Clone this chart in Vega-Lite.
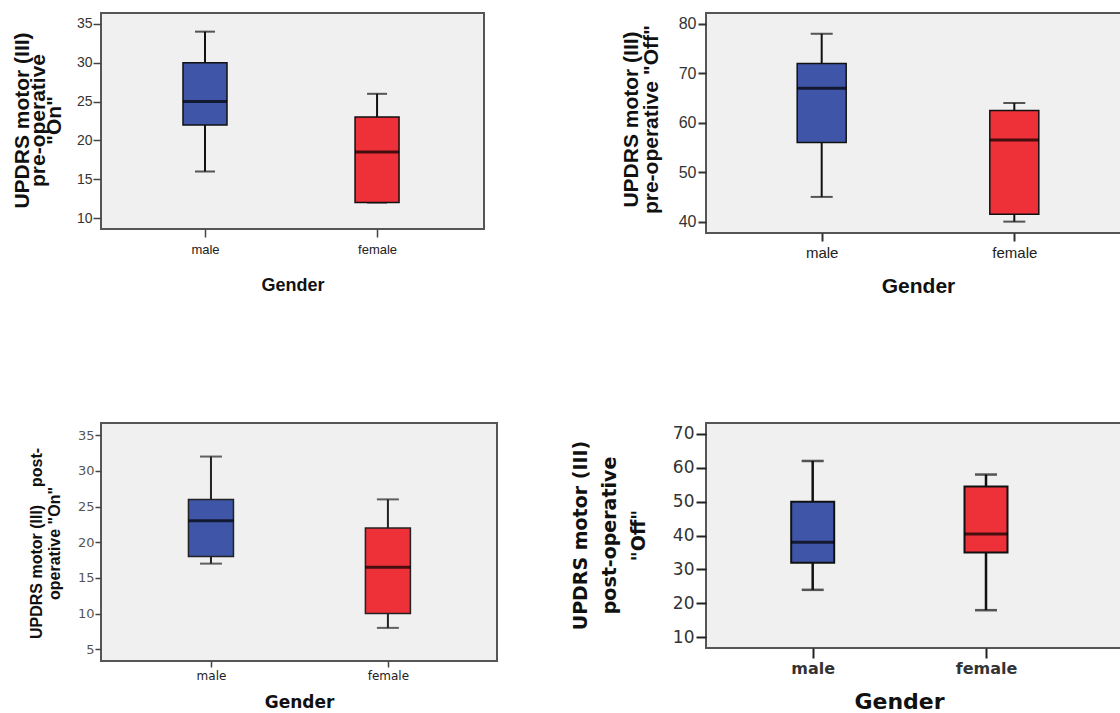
{
  "$schema": "https://vega.github.io/schema/vega-lite/v6.json",
  "background": "white",
  "padding": {"left": 9, "top": 12, "right": -11, "bottom": -1},
  "data": {
    "values": [
      {"panel": "preOn", "gender": "male", "min": 16, "q1": 22, "median": 25, "q3": 30, "max": 34},
      {"panel": "preOn", "gender": "female", "min": 12, "q1": 12, "median": 18.5, "q3": 23, "max": 26},
      {"panel": "preOff", "gender": "male", "min": 45, "q1": 56, "median": 67, "q3": 72, "max": 78},
      {"panel": "preOff", "gender": "female", "min": 40, "q1": 41.5, "median": 56.5, "q3": 62.5, "max": 64},
      {"panel": "postOn", "gender": "male", "min": 17, "q1": 18, "median": 23, "q3": 26, "max": 32},
      {"panel": "postOn", "gender": "female", "min": 8, "q1": 10, "median": 16.5, "q3": 22, "max": 26},
      {"panel": "postOff", "gender": "male", "min": 24, "q1": 32, "median": 38, "q3": 50, "max": 62},
      {"panel": "postOff", "gender": "female", "min": 18, "q1": 35, "median": 40.5, "q3": 54.5, "max": 58}
    ]
  },
  "columns": 2,
  "spacing": {"row": 190, "column": 209},
  "bounds": "flush",
  "resolve": {"scale": {"x": "independent", "y": "independent"}, "axis": {"x": "independent", "y": "independent"}},
  "concat": [
    {
      "width": 383,
      "height": 216,
      "transform": [{"filter": "datum.panel === 'preOn'"}],
      "encoding": {
        "x": {
          "field": "gender", "type": "nominal",
          "scale": {"type": "point", "domain": ["male", "female"], "padding": 0.613, "align": 0.493},
          "axis": {"title": "Gender", "labelAngle": 0, "labelFont": "Liberation Sans", "labelFontSize": 13, "labelColor": "#222", "labelPadding": 6, "tickSize": 8, "tickColor": "#444", "tickWidth": 1.5, "titleFont": "Liberation Sans", "titleFontSize": 18, "titleFontWeight": "bold", "titleColor": "#111", "titleY": 56, "titleBaseline": "middle"}
        }
      },
      "layer": [
        {"mark": {"type": "rule", "color": "#111", "strokeWidth": 2},
         "encoding": {"y": {"field": "min", "type": "quantitative", "scale": {"domain": [8.6, 36.4], "nice": false, "zero": false},
           "axis": {"values": [10, 15, 20, 25, 30, 35], "labelOverlap": false, "tickSize": 8, "tickColor": "#444", "tickWidth": 1.5, "labelFont": "Liberation Sans", "labelFontSize": 14, "labelColor": "#333", "labelPadding": 1, "title": ["UPDRS motor (III)", "pre-operative", "\"On\""], "titleFont": "Liberation Sans", "titleFontSize": 21, "titleFontWeight": "bold", "titleColor": "#111", "titleLineHeight": 16, "titleAngle": -90, "titleX": -90, "titleY": 107, "titleBaseline": "top", "titleAlign": "center"}},
           "y2": {"field": "max"}}},
        {"mark": {"type": "tick", "color": "#111", "size": 20, "thickness": 2},
         "encoding": {"y": {"field": "min", "type": "quantitative", "scale": {"domain": [8.6, 36.4], "nice": false, "zero": false},
           "axis": {"values": [10, 15, 20, 25, 30, 35], "labelOverlap": false, "tickSize": 8, "tickColor": "#444", "tickWidth": 1.5, "labelFont": "Liberation Sans", "labelFontSize": 14, "labelColor": "#333", "labelPadding": 1, "title": ["UPDRS motor (III)", "pre-operative", "\"On\""], "titleFont": "Liberation Sans", "titleFontSize": 21, "titleFontWeight": "bold", "titleColor": "#111", "titleLineHeight": 16, "titleAngle": -90, "titleX": -90, "titleY": 107, "titleBaseline": "top", "titleAlign": "center"}}}},
        {"mark": {"type": "tick", "color": "#111", "size": 20, "thickness": 2},
         "encoding": {"y": {"field": "max", "type": "quantitative", "scale": {"domain": [8.6, 36.4], "nice": false, "zero": false},
           "axis": {"values": [10, 15, 20, 25, 30, 35], "labelOverlap": false, "tickSize": 8, "tickColor": "#444", "tickWidth": 1.5, "labelFont": "Liberation Sans", "labelFontSize": 14, "labelColor": "#333", "labelPadding": 1, "title": ["UPDRS motor (III)", "pre-operative", "\"On\""], "titleFont": "Liberation Sans", "titleFontSize": 21, "titleFontWeight": "bold", "titleColor": "#111", "titleLineHeight": 16, "titleAngle": -90, "titleX": -90, "titleY": 107, "titleBaseline": "top", "titleAlign": "center"}}}},
        {"mark": {"type": "bar", "width": 44, "stroke": "#111", "strokeWidth": 1.5},
         "encoding": {"y": {"field": "q1", "type": "quantitative", "scale": {"domain": [8.6, 36.4], "nice": false, "zero": false},
           "axis": {"values": [10, 15, 20, 25, 30, 35], "labelOverlap": false, "tickSize": 8, "tickColor": "#444", "tickWidth": 1.5, "labelFont": "Liberation Sans", "labelFontSize": 14, "labelColor": "#333", "labelPadding": 1, "title": ["UPDRS motor (III)", "pre-operative", "\"On\""], "titleFont": "Liberation Sans", "titleFontSize": 21, "titleFontWeight": "bold", "titleColor": "#111", "titleLineHeight": 16, "titleAngle": -90, "titleX": -90, "titleY": 107, "titleBaseline": "top", "titleAlign": "center"}},
           "y2": {"field": "q3"},
           "fill": {"field": "gender", "type": "nominal", "scale": {"domain": ["male", "female"], "range": ["#3f56a8", "#ee3038"]}, "legend": null}}},
        {"mark": {"type": "tick", "color": "#000", "size": 44, "thickness": 3},
         "encoding": {"y": {"field": "median", "type": "quantitative", "scale": {"domain": [8.6, 36.4], "nice": false, "zero": false},
           "axis": {"values": [10, 15, 20, 25, 30, 35], "labelOverlap": false, "tickSize": 8, "tickColor": "#444", "tickWidth": 1.5, "labelFont": "Liberation Sans", "labelFontSize": 14, "labelColor": "#333", "labelPadding": 1, "title": ["UPDRS motor (III)", "pre-operative", "\"On\""], "titleFont": "Liberation Sans", "titleFontSize": 21, "titleFontWeight": "bold", "titleColor": "#111", "titleLineHeight": 16, "titleAngle": -90, "titleX": -90, "titleY": 107, "titleBaseline": "top", "titleAlign": "center"}}}}
      ]
    },
    {
      "width": 424,
      "height": 220,
      "transform": [{"filter": "datum.panel === 'preOff'"}],
      "encoding": {
        "x": {
          "field": "gender", "type": "nominal",
          "scale": {"type": "point", "domain": ["male", "female"], "padding": 0.6007, "align": 0.5},
          "axis": {"title": "Gender", "labelAngle": 0, "labelFont": "Liberation Sans", "labelFontSize": 15, "labelColor": "#222", "labelPadding": 4, "tickSize": 8, "tickColor": "#333", "tickWidth": 2, "titleFont": "Liberation Sans", "titleFontSize": 21, "titleFontWeight": "bold", "titleColor": "#111", "titleX": 212, "titleY": 53, "titleBaseline": "middle"}
        }
      },
      "layer": [
        {"mark": {"type": "rule", "color": "#111", "strokeWidth": 2},
         "encoding": {"y": {"field": "min", "type": "quantitative", "scale": {"domain": [37.7, 82.2], "nice": false, "zero": false},
           "axis": {"values": [40, 50, 60, 70, 80], "labelOverlap": false, "tickSize": 8, "tickColor": "#333", "tickWidth": 2, "labelFont": "Liberation Sans", "labelFontSize": 16, "labelColor": "#333", "labelPadding": 2, "title": ["UPDRS motor (III)", "pre-operative \"Off\""], "titleFont": "Liberation Sans", "titleFontSize": 21, "titleFontWeight": "bold", "titleColor": "#111", "titleLineHeight": 20, "titleAngle": -90, "titleX": -86, "titleY": 106, "titleBaseline": "top", "titleAlign": "center"}},
           "y2": {"field": "max"}}},
        {"mark": {"type": "tick", "color": "#111", "size": 22, "thickness": 2},
         "encoding": {"y": {"field": "min", "type": "quantitative", "scale": {"domain": [37.7, 82.2], "nice": false, "zero": false},
           "axis": {"values": [40, 50, 60, 70, 80], "labelOverlap": false, "tickSize": 8, "tickColor": "#333", "tickWidth": 2, "labelFont": "Liberation Sans", "labelFontSize": 16, "labelColor": "#333", "labelPadding": 2, "title": ["UPDRS motor (III)", "pre-operative \"Off\""], "titleFont": "Liberation Sans", "titleFontSize": 21, "titleFontWeight": "bold", "titleColor": "#111", "titleLineHeight": 20, "titleAngle": -90, "titleX": -86, "titleY": 106, "titleBaseline": "top", "titleAlign": "center"}}}},
        {"mark": {"type": "tick", "color": "#111", "size": 22, "thickness": 2},
         "encoding": {"y": {"field": "max", "type": "quantitative", "scale": {"domain": [37.7, 82.2], "nice": false, "zero": false},
           "axis": {"values": [40, 50, 60, 70, 80], "labelOverlap": false, "tickSize": 8, "tickColor": "#333", "tickWidth": 2, "labelFont": "Liberation Sans", "labelFontSize": 16, "labelColor": "#333", "labelPadding": 2, "title": ["UPDRS motor (III)", "pre-operative \"Off\""], "titleFont": "Liberation Sans", "titleFontSize": 21, "titleFontWeight": "bold", "titleColor": "#111", "titleLineHeight": 20, "titleAngle": -90, "titleX": -86, "titleY": 106, "titleBaseline": "top", "titleAlign": "center"}}}},
        {"mark": {"type": "bar", "width": 49, "stroke": "#111", "strokeWidth": 1.5},
         "encoding": {"y": {"field": "q1", "type": "quantitative", "scale": {"domain": [37.7, 82.2], "nice": false, "zero": false},
           "axis": {"values": [40, 50, 60, 70, 80], "labelOverlap": false, "tickSize": 8, "tickColor": "#333", "tickWidth": 2, "labelFont": "Liberation Sans", "labelFontSize": 16, "labelColor": "#333", "labelPadding": 2, "title": ["UPDRS motor (III)", "pre-operative \"Off\""], "titleFont": "Liberation Sans", "titleFontSize": 21, "titleFontWeight": "bold", "titleColor": "#111", "titleLineHeight": 20, "titleAngle": -90, "titleX": -86, "titleY": 106, "titleBaseline": "top", "titleAlign": "center"}},
           "y2": {"field": "q3"},
           "fill": {"field": "gender", "type": "nominal", "scale": {"domain": ["male", "female"], "range": ["#3f56a8", "#ee3038"]}, "legend": null}}},
        {"mark": {"type": "tick", "color": "#000", "size": 49, "thickness": 3},
         "encoding": {"y": {"field": "median", "type": "quantitative", "scale": {"domain": [37.7, 82.2], "nice": false, "zero": false},
           "axis": {"values": [40, 50, 60, 70, 80], "labelOverlap": false, "tickSize": 8, "tickColor": "#333", "tickWidth": 2, "labelFont": "Liberation Sans", "labelFontSize": 16, "labelColor": "#333", "labelPadding": 2, "title": ["UPDRS motor (III)", "pre-operative \"Off\""], "titleFont": "Liberation Sans", "titleFontSize": 21, "titleFontWeight": "bold", "titleColor": "#111", "titleLineHeight": 20, "titleAngle": -90, "titleX": -86, "titleY": 106, "titleBaseline": "top", "titleAlign": "center"}}}}
      ]
    },
    {
      "width": 396,
      "height": 238,
      "transform": [{"filter": "datum.panel === 'postOn'"}],
      "encoding": {
        "x": {
          "field": "gender", "type": "nominal",
          "scale": {"type": "point", "domain": ["male", "female"], "padding": 0.619, "align": 0.502},
          "axis": {"title": "Gender", "labelAngle": 0, "labelFont": "DejaVu Sans", "labelFontSize": 12, "labelColor": "#222", "labelPadding": 3, "tickSize": 6, "tickColor": "#444", "tickWidth": 1.5, "titleFont": "DejaVu Sans", "titleFontSize": 17, "titleFontWeight": "bold", "titleColor": "#111", "titleY": 41, "titleBaseline": "middle"}
        }
      },
      "layer": [
        {"mark": {"type": "rule", "color": "#222", "strokeWidth": 2},
         "encoding": {"y": {"field": "min", "type": "quantitative", "scale": {"domain": [3.36, 36.7], "nice": false, "zero": false},
           "axis": {"values": [5, 10, 15, 20, 25, 30, 35], "labelOverlap": false, "tickSize": 6, "tickColor": "#444", "tickWidth": 1.5, "labelFont": "DejaVu Sans", "labelFontSize": 13, "labelColor": "#555", "labelPadding": 1, "title": ["UPDRS motor (III)\u00a0\u00a0\u00a0\u00a0post-", "operative \"On\""], "titleFont": "Liberation Sans", "titleFontSize": 16, "titleFontWeight": "bold", "titleColor": "#111", "titleLineHeight": 18, "titleAngle": -90, "titleX": -73, "titleY": 120, "titleBaseline": "top", "titleAlign": "center"}},
           "y2": {"field": "max"}}},
        {"mark": {"type": "tick", "color": "#222", "size": 22, "thickness": 2},
         "encoding": {"y": {"field": "min", "type": "quantitative", "scale": {"domain": [3.36, 36.7], "nice": false, "zero": false},
           "axis": {"values": [5, 10, 15, 20, 25, 30, 35], "labelOverlap": false, "tickSize": 6, "tickColor": "#444", "tickWidth": 1.5, "labelFont": "DejaVu Sans", "labelFontSize": 13, "labelColor": "#555", "labelPadding": 1, "title": ["UPDRS motor (III)\u00a0\u00a0\u00a0\u00a0post-", "operative \"On\""], "titleFont": "Liberation Sans", "titleFontSize": 16, "titleFontWeight": "bold", "titleColor": "#111", "titleLineHeight": 18, "titleAngle": -90, "titleX": -73, "titleY": 120, "titleBaseline": "top", "titleAlign": "center"}}}},
        {"mark": {"type": "tick", "color": "#222", "size": 22, "thickness": 2},
         "encoding": {"y": {"field": "max", "type": "quantitative", "scale": {"domain": [3.36, 36.7], "nice": false, "zero": false},
           "axis": {"values": [5, 10, 15, 20, 25, 30, 35], "labelOverlap": false, "tickSize": 6, "tickColor": "#444", "tickWidth": 1.5, "labelFont": "DejaVu Sans", "labelFontSize": 13, "labelColor": "#555", "labelPadding": 1, "title": ["UPDRS motor (III)\u00a0\u00a0\u00a0\u00a0post-", "operative \"On\""], "titleFont": "Liberation Sans", "titleFontSize": 16, "titleFontWeight": "bold", "titleColor": "#111", "titleLineHeight": 18, "titleAngle": -90, "titleX": -73, "titleY": 120, "titleBaseline": "top", "titleAlign": "center"}}}},
        {"mark": {"type": "bar", "width": 45, "stroke": "#222", "strokeWidth": 1.5},
         "encoding": {"y": {"field": "q1", "type": "quantitative", "scale": {"domain": [3.36, 36.7], "nice": false, "zero": false},
           "axis": {"values": [5, 10, 15, 20, 25, 30, 35], "labelOverlap": false, "tickSize": 6, "tickColor": "#444", "tickWidth": 1.5, "labelFont": "DejaVu Sans", "labelFontSize": 13, "labelColor": "#555", "labelPadding": 1, "title": ["UPDRS motor (III)\u00a0\u00a0\u00a0\u00a0post-", "operative \"On\""], "titleFont": "Liberation Sans", "titleFontSize": 16, "titleFontWeight": "bold", "titleColor": "#111", "titleLineHeight": 18, "titleAngle": -90, "titleX": -73, "titleY": 120, "titleBaseline": "top", "titleAlign": "center"}},
           "y2": {"field": "q3"},
           "fill": {"field": "gender", "type": "nominal", "scale": {"domain": ["male", "female"], "range": ["#3f56a8", "#ee3038"]}, "legend": null}}},
        {"mark": {"type": "tick", "color": "#000", "size": 45, "thickness": 3},
         "encoding": {"y": {"field": "median", "type": "quantitative", "scale": {"domain": [3.36, 36.7], "nice": false, "zero": false},
           "axis": {"values": [5, 10, 15, 20, 25, 30, 35], "labelOverlap": false, "tickSize": 6, "tickColor": "#444", "tickWidth": 1.5, "labelFont": "DejaVu Sans", "labelFontSize": 13, "labelColor": "#555", "labelPadding": 1, "title": ["UPDRS motor (III)\u00a0\u00a0\u00a0\u00a0post-", "operative \"On\""], "titleFont": "Liberation Sans", "titleFontSize": 16, "titleFontWeight": "bold", "titleColor": "#111", "titleLineHeight": 18, "titleAngle": -90, "titleX": -73, "titleY": 120, "titleBaseline": "top", "titleAlign": "center"}}}}
      ]
    },
    {
      "width": 424,
      "height": 225,
      "transform": [{"filter": "datum.panel === 'postOff'"}],
      "encoding": {
        "x": {
          "field": "gender", "type": "nominal",
          "scale": {"type": "point", "domain": ["male", "female"], "padding": 0.7233, "align": 0.4256},
          "axis": {"title": "Gender", "labelAngle": 0, "labelFont": "DejaVu Sans", "labelFontSize": 16, "labelFontWeight": "bold", "labelColor": "#333", "labelPadding": 2, "tickSize": 10, "tickColor": "#222", "tickWidth": 2, "titleFont": "DejaVu Sans", "titleFontSize": 22, "titleFontWeight": "bold", "titleColor": "#111", "titleX": 193, "titleY": 53, "titleBaseline": "middle"}
        }
      },
      "layer": [
        {"mark": {"type": "rule", "color": "#111", "strokeWidth": 2.5},
         "encoding": {"y": {"field": "min", "type": "quantitative", "scale": {"domain": [6.85, 73.2], "nice": false, "zero": false},
           "axis": {"values": [10, 20, 30, 40, 50, 60, 70], "labelOverlap": false, "tickSize": 10, "tickColor": "#222", "tickWidth": 2, "labelFont": "DejaVu Sans", "labelFontSize": 17, "labelColor": "#333", "labelPadding": 2, "title": ["UPDRS motor (III)", "post-operative", "\"Off\""], "titleFont": "DejaVu Sans", "titleFontSize": 19, "titleFontWeight": "bold", "titleColor": "#111", "titleLineHeight": 29, "titleAngle": -90, "titleX": -135, "titleY": 112, "titleBaseline": "top", "titleAlign": "center"}},
           "y2": {"field": "max"}}},
        {"mark": {"type": "tick", "color": "#111", "size": 22, "thickness": 2.5},
         "encoding": {"y": {"field": "min", "type": "quantitative", "scale": {"domain": [6.85, 73.2], "nice": false, "zero": false},
           "axis": {"values": [10, 20, 30, 40, 50, 60, 70], "labelOverlap": false, "tickSize": 10, "tickColor": "#222", "tickWidth": 2, "labelFont": "DejaVu Sans", "labelFontSize": 17, "labelColor": "#333", "labelPadding": 2, "title": ["UPDRS motor (III)", "post-operative", "\"Off\""], "titleFont": "DejaVu Sans", "titleFontSize": 19, "titleFontWeight": "bold", "titleColor": "#111", "titleLineHeight": 29, "titleAngle": -90, "titleX": -135, "titleY": 112, "titleBaseline": "top", "titleAlign": "center"}}}},
        {"mark": {"type": "tick", "color": "#111", "size": 22, "thickness": 2.5},
         "encoding": {"y": {"field": "max", "type": "quantitative", "scale": {"domain": [6.85, 73.2], "nice": false, "zero": false},
           "axis": {"values": [10, 20, 30, 40, 50, 60, 70], "labelOverlap": false, "tickSize": 10, "tickColor": "#222", "tickWidth": 2, "labelFont": "DejaVu Sans", "labelFontSize": 17, "labelColor": "#333", "labelPadding": 2, "title": ["UPDRS motor (III)", "post-operative", "\"Off\""], "titleFont": "DejaVu Sans", "titleFontSize": 19, "titleFontWeight": "bold", "titleColor": "#111", "titleLineHeight": 29, "titleAngle": -90, "titleX": -135, "titleY": 112, "titleBaseline": "top", "titleAlign": "center"}}}},
        {"mark": {"type": "bar", "width": 43, "stroke": "#111", "strokeWidth": 2},
         "encoding": {"y": {"field": "q1", "type": "quantitative", "scale": {"domain": [6.85, 73.2], "nice": false, "zero": false},
           "axis": {"values": [10, 20, 30, 40, 50, 60, 70], "labelOverlap": false, "tickSize": 10, "tickColor": "#222", "tickWidth": 2, "labelFont": "DejaVu Sans", "labelFontSize": 17, "labelColor": "#333", "labelPadding": 2, "title": ["UPDRS motor (III)", "post-operative", "\"Off\""], "titleFont": "DejaVu Sans", "titleFontSize": 19, "titleFontWeight": "bold", "titleColor": "#111", "titleLineHeight": 29, "titleAngle": -90, "titleX": -135, "titleY": 112, "titleBaseline": "top", "titleAlign": "center"}},
           "y2": {"field": "q3"},
           "fill": {"field": "gender", "type": "nominal", "scale": {"domain": ["male", "female"], "range": ["#3f56a8", "#ee3038"]}, "legend": null}}},
        {"mark": {"type": "tick", "color": "#000", "size": 43, "thickness": 3},
         "encoding": {"y": {"field": "median", "type": "quantitative", "scale": {"domain": [6.85, 73.2], "nice": false, "zero": false},
           "axis": {"values": [10, 20, 30, 40, 50, 60, 70], "labelOverlap": false, "tickSize": 10, "tickColor": "#222", "tickWidth": 2, "labelFont": "DejaVu Sans", "labelFontSize": 17, "labelColor": "#333", "labelPadding": 2, "title": ["UPDRS motor (III)", "post-operative", "\"Off\""], "titleFont": "DejaVu Sans", "titleFontSize": 19, "titleFontWeight": "bold", "titleColor": "#111", "titleLineHeight": 29, "titleAngle": -90, "titleX": -135, "titleY": 112, "titleBaseline": "top", "titleAlign": "center"}}}}
      ]
    }
  ],
  "config": {
    "view": {"fill": "#f0f0f0", "stroke": "#555", "strokeWidth": 2},
    "axis": {"grid": false, "domain": false}
  }
}
